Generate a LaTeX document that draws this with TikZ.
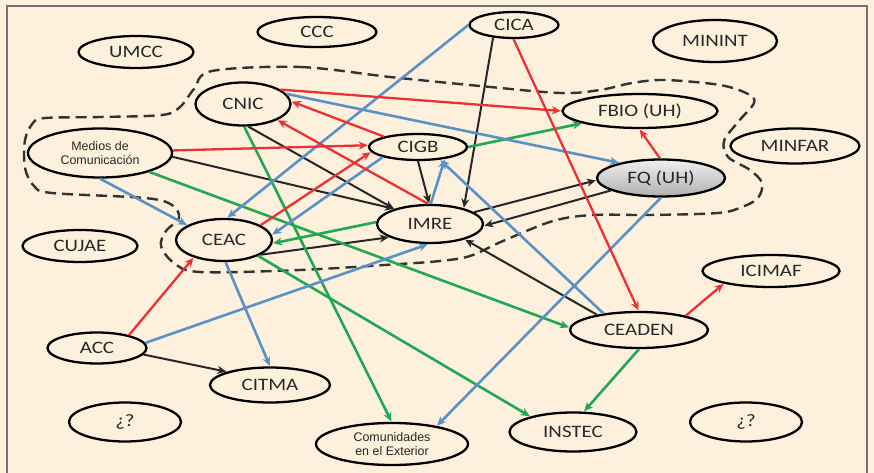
\documentclass[tikz,border=0pt]{standalone}
\usepackage{fontspec}
\setmainfont{Carlito}
\newfontfamily\widefont{Carlito}[FakeStretch=1.2]
\newfontfamily\arialf{Liberation Sans}
\usetikzlibrary{shapes.geometric,arrows.meta}
\definecolor{bg}{RGB}{253,241,222}
\definecolor{myred}{RGB}{237,48,52}
\definecolor{myblue}{RGB}{90,146,200}
\definecolor{mygreen}{RGB}{34,168,80}
\definecolor{txt}{RGB}{40,40,40}
\begin{document}
\begin{tikzpicture}[x=1bp,y=-1bp,
  ell/.style={ellipse, draw=black, line width=2.3bp, inner sep=0pt, fill=bg, text=txt,
              font=\widefont\fontsize{17.5}{17.5}\selectfont},
  small/.style={font=\arialf\fontsize{12.5}{14.5}\selectfont, align=center},
  arr/.style={-{Stealth[length=9bp,width=8bp,inset=2.8bp]}, shorten >=0.5bp},
  redarr/.style={arr, draw=myred, line width=2.3bp},
  bluearr/.style={arr, draw=myblue, line width=2.6bp},
  greenarr/.style={arr, draw=mygreen, line width=2.6bp},
  blackarr/.style={arr, draw=black!85, line width=2bp},
  group/.style={draw=black!80, line width=2.4bp, dash pattern=on 11bp off 6bp}
]
\useasboundingbox (0,0) rectangle (874,473);
\fill[bg] (0,0) rectangle (874,473);
\draw[black!55, line width=1.2bp] (7,480) -- (7,6) -- (867,6) -- (867,480);

% dashed group outline
\draw[group] plot[smooth cycle, tension=0.55] coordinates {
  (212,71) (300,67) (390,77) (480,86) (560,93) (600,90) (632,83) (665,80)
  (720,85) (748,94) (754,103) (738,122) (724,141) (728,157) (750,170) (762,183)
  (758,198) (742,207) (718,213) (650,215) (593,215) (553,221) (503,241) (470,256)
  (440,261) (400,264) (300,270) (200,272) (174,263) (161,246) (166,231) (179,218)
  (172,205) (145,198) (52,193) (34,186) (25,168) (25,140) (33,123) (45,118)
  (100,117) (162,115) (180,107) (194,89) };

% nodes
\node[ell, minimum width=115bp, minimum height=32bp] (umcc) at (136,52) {UMCC};
\node[ell, minimum width=119bp, minimum height=30bp] (ccc) at (317,32) {CCC};
\node[ell, minimum width=89bp, minimum height=26bp] (cica) at (514,25) {CICA};
\node[ell, minimum width=124bp, minimum height=42bp] (minint) at (715,41) {MININT};
\node[ell, minimum width=95bp, minimum height=43bp] (cnic) at (243,104) {CNIC};
\node[ell, minimum width=155bp, minimum height=34bp] (fbio) at (640,111) {FBIO (UH)};
\node[ell, small, minimum width=144bp, minimum height=49bp] (medios) at (100,153) {Medios de\\Comunicación};
\node[ell, minimum width=98bp, minimum height=26bp] (cigb) at (418,147) {CIGB};
\node[ell, minimum width=129bp, minimum height=35bp] (minfar) at (795,146) {MINFAR};
\node[ell, minimum width=128bp, minimum height=37bp, top color=gray!12, bottom color=gray!62] (fq) at (661,178) {FQ (UH)};
\node[ell, minimum width=106bp, minimum height=38bp] (imre) at (430,224) {IMRE};
\node[ell, minimum width=96bp, minimum height=42bp] (ceac) at (224,240) {CEAC};
\node[ell, minimum width=115bp, minimum height=32bp] (cujae) at (80,246) {CUJAE};
\node[ell, minimum width=137bp, minimum height=32bp] (icimaf) at (771,271) {ICIMAF};
\node[ell, minimum width=99bp, minimum height=31bp] (acc) at (97,348) {ACC};
\node[ell, minimum width=138bp, minimum height=36bp] (ceaden) at (639,330) {CEADEN};
\node[ell, minimum width=120bp, minimum height=35bp] (citma) at (270,385) {CITMA};
\node[ell, minimum width=112bp, minimum height=39bp] (qa) at (125,422) {¿?};
\node[ell, small, minimum width=152bp, minimum height=42bp] (comun) at (392,444) {Comunidades\\en el Exterior};
\node[ell, minimum width=127bp, minimum height=39bp] (instec) at (573,432) {INSTEC};
\node[ell, minimum width=112bp, minimum height=39bp] (qb) at (746,422) {¿?};

% black connectors
\draw[blackarr] (cnic.-77) -- (imre.157);
\draw[blackarr] (medios.-3) -- (imre.157);
\draw[blackarr] (cigb.-90) -- (imre.92);
\draw[blackarr] (cica.211) -- (imre.25);
\draw[blackarr] (imre.15) -- (fq.182);
\draw[blackarr] (fq.194) -- (imre.-2);
\draw[blackarr] (ceaden.160) -- (imre.-24);
\draw[blackarr] (ceac.-22) -- (imre.198);
\draw[blackarr] (acc.-8) -- (citma.163);

% green connectors
\draw[greenarr] (cigb.east) -- (fbio.192);
\draw[greenarr] (imre.178) -- (ceac.-4);
\draw[greenarr] (cnic.-87) -- (comun.91);
\draw[greenarr] (medios.-21) -- (ceaden.178);
\draw[greenarr] (ceac.-25) -- (instec.160);
\draw[greenarr] (ceaden.-90) -- (instec.62);

% blue connectors
\draw[bluearr] (cica.180) -- (ceac.82);
\draw[bluearr] (cigb.196) -- (ceac.6);
\draw[bluearr] (cnic.13) -- (fq.160);
\draw[bluearr] (medios.-90) -- (ceac.158);
\draw[bluearr] (imre.88) -- (cigb.-24);
\draw[bluearr] (ceaden.155) -- (cigb.-30);
\draw[bluearr] (ceac.-86) -- (citma.north);
\draw[bluearr] (acc.6) -- (imre.265);
\draw[bluearr] (fq.-90) -- (comun.22);

% red connectors
\draw[redarr] (cnic.21) -- (fbio.180);
\draw[redarr] (cigb.163) -- (cnic.3);
\draw[redarr] (imre.95) -- (cnic.-25);
\draw[redarr] (medios.2) -- (cigb.178);
\draw[redarr] (ceac.22) -- (cigb.186);
\draw[redarr] (acc.22) -- (ceac.210);
\draw[redarr] (cica.-92) -- (ceaden.91);
\draw[redarr] (fq.93) -- (fbio.-92);
\draw[redarr] (ceaden.17) -- (icimaf.195);
\end{tikzpicture}
\end{document}
